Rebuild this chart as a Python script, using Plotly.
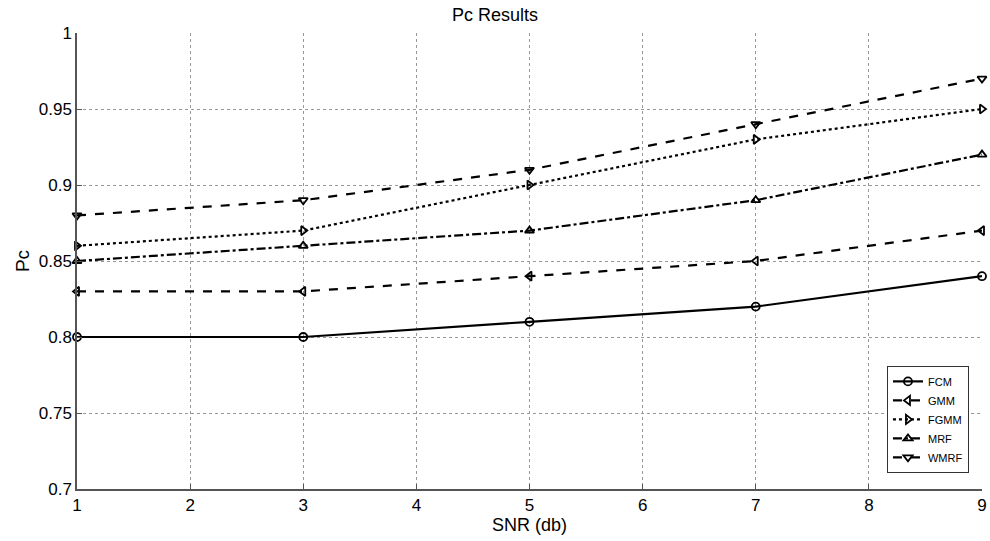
import plotly.graph_objects as go

snr = [1, 3, 5, 7, 9]
fcm = [0.80, 0.80, 0.81, 0.82, 0.84]
gmm = [0.83, 0.83, 0.84, 0.85, 0.87]
fgmm = [0.86, 0.87, 0.90, 0.93, 0.95]
mrf = [0.85, 0.86, 0.87, 0.89, 0.92]
wmrf = [0.88, 0.89, 0.91, 0.94, 0.97]

x_ticks = [1, 2, 3, 4, 5, 6, 7, 8, 9]
y_ticks = [0.7, 0.75, 0.8, 0.85, 0.9, 0.95, 1]
y_tick_text = ["0.7", "0.75", "0.8", "0.85", "0.9", "0.95", "1"]

series = [
    ("FCM", fcm, "circle-open", "solid"),
    ("GMM", gmm, "triangle-left-open", "dash"),
    ("FGMM", fgmm, "triangle-right-open", "dot"),
    ("MRF", mrf, "triangle-up-open", "dashdot"),
    ("WMRF", wmrf, "triangle-down-open", "dash"),
]

fig = go.Figure()
for name, vals, sym, dash in series:
    fig.add_trace(go.Scatter(
        x=snr, y=vals, name=name, mode="lines+markers",
        line=dict(color="black", width=2.2, dash=dash),
        marker=dict(symbol=sym, size=8, color="black", line=dict(width=1.8, color="black")),
        cliponaxis=False,
    ))

font = "Liberation Sans, Arial, sans-serif"
fig.update_layout(
    width=990, height=541,
    margin=dict(l=77, r=3, t=33, b=52),
    paper_bgcolor="white", plot_bgcolor="white",
    title=dict(text="Pc Results", x=0.5, xanchor="center", y=0.985, yanchor="top",
               font=dict(family=font, size=18, color="black")),
    font=dict(family=font, size=17, color="black"),
    showlegend=True,
    legend=dict(x=0.895, y=0.27, xanchor="left", yanchor="top",
                bordercolor="#333", borderwidth=1, bgcolor="white",
                font=dict(family=font, size=11, color="black"),
                tracegroupgap=0, itemwidth=30),
)
fig.update_xaxes(
    range=[1, 9], tickvals=x_ticks, ticks="inside", ticklen=5, tickcolor="#555",
    showline=True, linecolor="#555", linewidth=1.5, mirror=False,
    showgrid=True, gridcolor="#999", griddash="dot", gridwidth=1,
    zeroline=False, ticklabeloverflow="allow",
    title=dict(text="SNR (db)", standoff=2, font=dict(size=18)),
    tickfont=dict(size=17),
)
fig.update_yaxes(
    range=[0.7, 1], tickvals=y_ticks, ticktext=y_tick_text, ticks="inside", ticklen=5,
    tickcolor="#555", showline=True, linecolor="#555", linewidth=1.5, mirror=False,
    showgrid=True, gridcolor="#999", griddash="dot", gridwidth=1,
    zeroline=False, ticklabeloverflow="allow",
    title=dict(text="Pc", standoff=4, font=dict(size=19)),
    tickfont=dict(size=17),
)

fig.write_html("out.html")
